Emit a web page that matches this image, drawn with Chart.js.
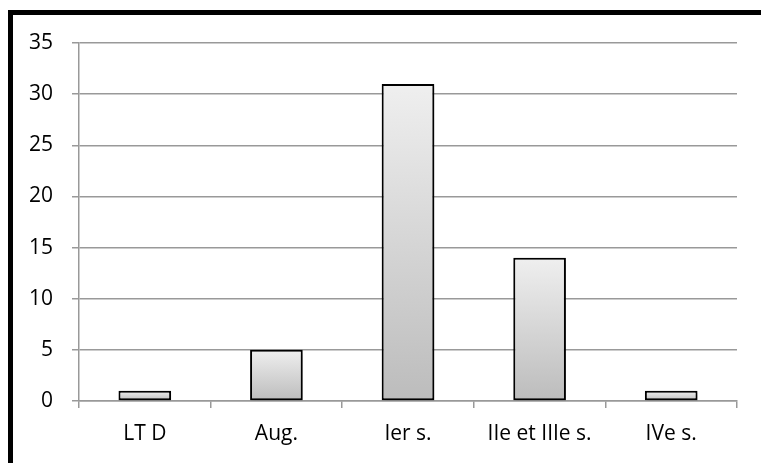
<!DOCTYPE html>
<html>
<head>
<meta charset="utf-8">
<script src="https://cdn.jsdelivr.net/npm/chart.js@4.4.1/dist/chart.umd.min.js"></script>
<style>
  html, body { margin: 0; padding: 0; background: #fff; overflow: hidden; }
  #wrap { position: relative; width: 761px; height: 463px; }
  #frame { position: absolute; left: 8px; top: 10px; width: 780px; height: 480px; border: 5px solid #000; box-sizing: border-box; }
  canvas { position: absolute; left: 0; top: 0; }
</style>
</head>
<body>
<div id="wrap">
  <div id="frame"></div>
  <canvas id="chart" width="761" height="463"></canvas>
</div>
<script>
  let periodes = ["LT D", "Aug.", "Ier s.", "IIe et IIIe s.", "IVe s."];
  let valeurs = [1, 5, 31, 14, 1];
  let yTicks = [0, 5, 10, 15, 20, 25, 30, 35];

  function degrade(context) {
    let chart = context.chart;
    if (!chart.chartArea || context.dataIndex === undefined) return "#d8d8d8";
    let y = chart.scales.y;
    let haut = y.getPixelForValue(valeurs[context.dataIndex]);
    let bas = y.getPixelForValue(0);
    let g = chart.ctx.createLinearGradient(0, haut, 0, bas);
    g.addColorStop(0, "#efefef");
    g.addColorStop(1, "#bcbcbc");
    return g;
  }

  let ombre = {
    id: "ombre",
    beforeDatasetsDraw(chart) {
      chart.ctx.save();
      chart.ctx.shadowColor = "rgba(0,0,0,0.35)";
      chart.ctx.shadowBlur = 4;
      chart.ctx.shadowOffsetX = 2;
      chart.ctx.shadowOffsetY = 2;
    },
    afterDatasetsDraw(chart) {
      chart.ctx.restore();
    }
  };

  let ctx = document.getElementById("chart").getContext("2d");

  new Chart(ctx, {
    type: "bar",
    data: {
      labels: periodes,
      datasets: [{
        data: valeurs,
        backgroundColor: degrade,
        borderColor: "#000",
        borderWidth: 2,
        borderSkipped: false,
        categoryPercentage: 1,
        barPercentage: 0.4
      }]
    },
    plugins: [ombre],
    options: {
      responsive: false,
      animation: false,
      layout: { padding: { left: 0, right: 24, top: 43, bottom: 0 } },
      plugins: {
        legend: { display: false },
        tooltip: { enabled: false }
      },
      scales: {
        y: {
          min: 0,
          max: 35,
          afterBuildTicks(scale) {
            scale.ticks = yTicks.map(v => ({ value: v }));
          },
          afterFit(scale) { scale.width = 79; },
          grid: { color: "#999", lineWidth: 1.5, tickLength: 7 },
          border: { color: "#999", width: 1.5 },
          ticks: { color: "#000", padding: 19, font: { family: "Open Sans", size: 21 } }
        },
        x: {
          afterFit(scale) { scale.height = 62; },
          grid: { offset: true, drawOnChartArea: false, color: "#999", lineWidth: 1.5, tickLength: 7 },
          border: { color: "#999", width: 1.5 },
          ticks: { color: "#000", padding: 13, maxRotation: 0, font: { family: "Open Sans", size: 21 } }
        }
      }
    }
  });
</script>
</body>
</html>
